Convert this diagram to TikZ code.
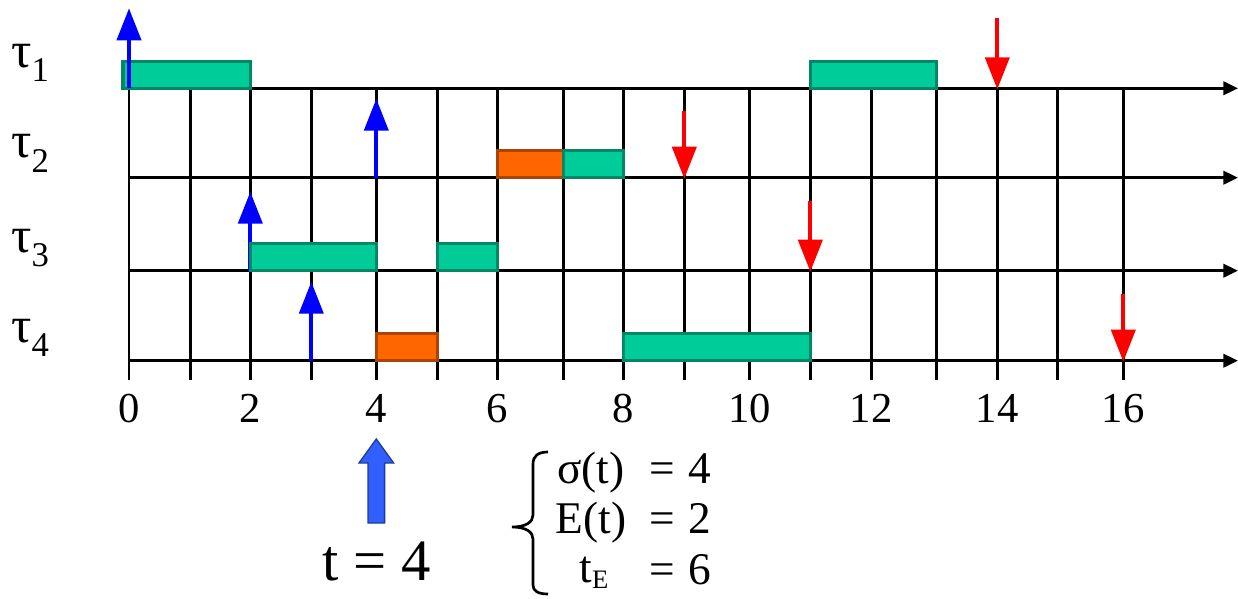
\documentclass[tikz,border=0pt]{standalone}
\usepackage{fontspec}
\setmainfont{Liberation Serif}
\usetikzlibrary{arrows.meta,calc}
\definecolor{boxgreen}{RGB}{0,204,153}
\definecolor{boxgreenedge}{RGB}{0,136,102}
\definecolor{boxorange}{RGB}{255,102,0}
\definecolor{boxorangeedge}{RGB}{170,68,0}
\definecolor{bigblue}{RGB}{48,96,255}
\definecolor{bigblueedge}{RGB}{34,60,150}
\begin{document}
\begin{tikzpicture}[x=0.75pt,y=-0.75pt,
  gridline/.style={line width=2pt,black},
  axisline/.style={line width=2.2pt,black,-{Triangle[length=11pt,width=10pt]}},
  release/.style={line width=3pt,blue,-{Triangle[length=24pt,width=18pt]}},
  deadline/.style={line width=3pt,red,-{Triangle[length=24pt,width=18pt]}},
  greenbox/.style={fill=boxgreen,draw=boxgreenedge,line width=2.4pt},
  orangebox/.style={fill=boxorange,draw=boxorangeedge,line width=2.4pt},
  tick/.style={font=\fontsize{32}{36}\selectfont,anchor=base,inner sep=0pt},
  tasklabel/.style={font=\fontsize{38}{42}\selectfont,anchor=base west,inner sep=0pt},
  eq/.style={font=\fontsize{34}{38}\selectfont,anchor=base,inner sep=0pt},
  eqbig/.style={font=\fontsize{44}{48}\selectfont,anchor=base,inner sep=0pt},
  bigarrow/.style={fill=bigblue,draw=bigblueedge,line width=1pt},
  brace/.style={line width=2pt,black},
]
\useasboundingbox (0,0) rectangle (1238,599);

% grid coordinates
\foreach \i/\x in {0/129,1/190.3,2/250.3,3/311.3,4/376.3,5/437.3,6/497.3,7/563.3,8/623.3,9/684.3,10/749.7,11/810.3,12/871.3,13/936.3,14/997.3,15/1057.3,16/1123.3}
  \coordinate (c\i) at (\x,0);
\coordinate (r1) at (0,88.3);
\coordinate (r2) at (0,177.7);
\coordinate (r3) at (0,270.7);
\coordinate (r4) at (0,360.7);
\coordinate (bot) at (0,380);
\coordinate (e) at (1238,0);

% grid
\foreach \i in {0,...,16}
  \draw[gridline] (c\i|-r1) -- (c\i|-bot);
\foreach \r in {r1,r2,r3,r4}
  \draw[axisline] (c0|-\r) -- (e|-\r);

% release hidden behind box
\draw[release] (c2|-r3) -- ($(c2|-r3)+(0,-79)$);

% execution boxes
\path[greenbox] ($(c0|-r1)+(-6,-27)$) rectangle (c2|-r1);
\path[greenbox] ($(c11|-r1)+(0,-27)$) rectangle (c13|-r1);
\path[orangebox] ($(c6|-r2)+(0,-27)$) rectangle (c7|-r2);
\path[greenbox] ($(c7|-r2)+(0,-27)$) rectangle (c8|-r2);
\path[greenbox] ($(c2|-r3)+(0,-27)$) rectangle (c4|-r3);
\path[greenbox] ($(c5|-r3)+(0,-27)$) rectangle (c6|-r3);
\path[orangebox] ($(c4|-r4)+(0,-27)$) rectangle (c5|-r4);
\path[greenbox] ($(c8|-r4)+(0,-27)$) rectangle (c11|-r4);

% releases
\draw[release] (c0|-r1) -- ($(c0|-r1)+(0,-80)$);
\draw[release] (c4|-r2) -- ($(c4|-r2)+(0,-79)$);
\draw[release] (c3|-r4) -- ($(c3|-r4)+(0,-79)$);

% deadlines
\draw[deadline] ($(c14|-r1)+(0,-70)$) -- ($(c14|-r1)+(0,1)$);
\draw[deadline] ($(c9|-r2)+(0,-67)$) -- ($(c9|-r2)+(0,1)$);
\draw[deadline] ($(c11|-r3)+(0,-70)$) -- ($(c11|-r3)+(0,1)$);
\draw[deadline] ($(c16|-r4)+(0,-67)$) -- ($(c16|-r4)+(0,1)$);

% task labels
\node[tasklabel] (l1) at (11,68) {τ\raisebox{-10.5pt}{\fontsize{26}{28}\selectfont 1}};
\node[tasklabel] (l2) at (11,158) {τ\raisebox{-10.5pt}{\fontsize{26}{28}\selectfont 2}};
\node[tasklabel] (l3) at (11,252) {τ\raisebox{-10.5pt}{\fontsize{26}{28}\selectfont 3}};
\node[tasklabel] (l4) at (11,342) {τ\raisebox{-10.5pt}{\fontsize{26}{28}\selectfont 4}};

% time ticks
\foreach \i in {0,2,...,16}
  \node[tick] (n\i) at (c\i|-0,422) {\i};

% current time arrow
\filldraw[bigarrow] (368,523) -- (368,463) -- (359,463) -- (376.3,439) -- (393.6,463) -- (384.6,463) -- (384.6,523) -- cycle;
\node[eqbig] (tnow) at (377,580) {t = 4};

% brace
\draw[brace] (548,452) .. controls (538,452) and (533,456) .. (533,464) -- (533,515) .. controls (533,522) and (526,527) .. (512,527) .. controls (526,527) and (533,532) .. (533,539) -- (533,585) .. controls (533,591) and (538,594) .. (548,594);

% equations
\node[eq] (sig) at (591,483) {σ(t)};
\node[eq] (eqa) at (662,483) {=};
\node[eq] (va) at (700,483) {4};
\node[eq] (Et) at (591,533) {E(t)};
\node[eq] (eqb) at (662,533) {=};
\node[eq] (vb) at (700,533) {2};
\node[eq] (tE) at (594,582) {t\raisebox{-4.5pt}{\fontsize{20}{22}\selectfont E}};
\node[eq] (eqc) at (662,584) {=};
\node[eq] (vc) at (700,584) {6};
\end{tikzpicture}
\end{document}
